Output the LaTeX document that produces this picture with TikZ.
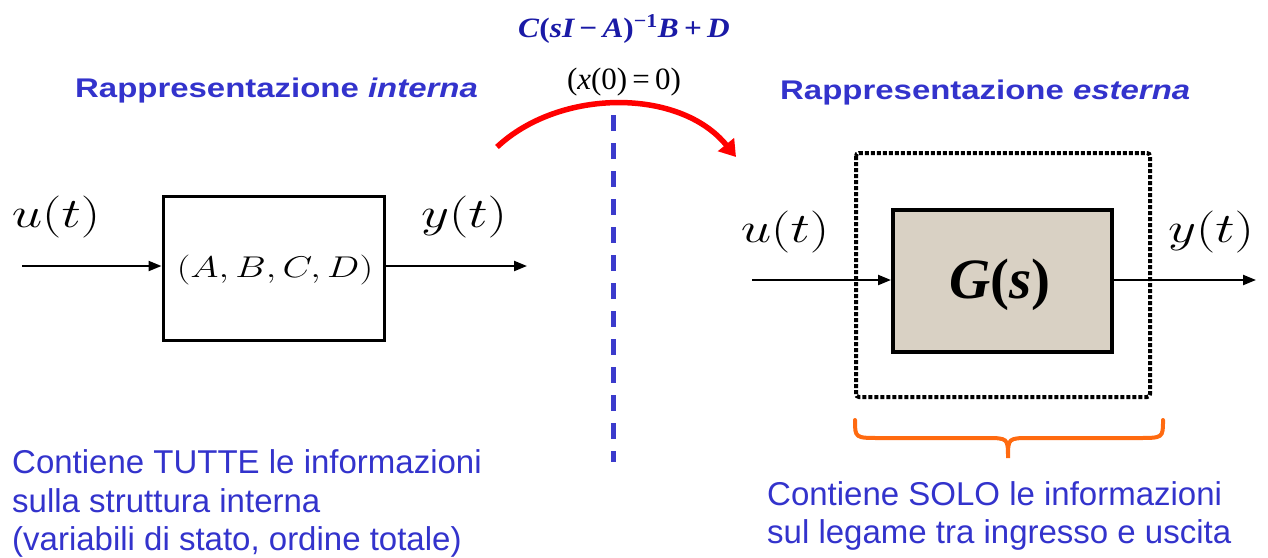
\RequirePackage{fix-cm}
\documentclass[tikz,border=0pt]{standalone}
\usepackage{fontspec}
\newfontfamily\arialf{Liberation Sans}
\newfontfamily\timesf{Liberation Serif}
\usetikzlibrary{arrows.meta}
\definecolor{tblue}{HTML}{3333CC}
\definecolor{fblue}{HTML}{1A1AA6}
\definecolor{dblue}{HTML}{3B3BCC}
\definecolor{bgbox}{HTML}{D9D1C4}
\definecolor{bracecol}{HTML}{FF6A10}
\begin{document}
\begin{tikzpicture}[x=1pt,y=-1pt,
  titlestyle/.style={text=tblue, inner sep=0, anchor=base west},
  bodytext/.style={text=tblue, inner sep=0, anchor=base west, font=\arialf\fontsize{33}{38}\selectfont},
  mathlbl/.style={inner sep=0},
  blockbox/.style={draw, line width=3pt, inner sep=0},
  sig/.style={-{Triangle[length=13pt,width=10pt]}, line width=2.2pt},
]
\useasboundingbox (0,0) rectangle (1268,557);

% titles
\node[titlestyle] (tl) at (75,97) {\scalebox{1.22}[1]{\arialf\bfseries\fontsize{27}{30}\selectfont Rappresentazione \itshape interna}};
\node[titlestyle] (tr) at (780,99) {\scalebox{1.22}[1]{\arialf\bfseries\fontsize{27}{30}\selectfont Rappresentazione \itshape esterna}};

% formula
\node[mathlbl, text=fblue] (form) at (624,29) {\scalebox{1.12}[1]{\timesf\bfseries\fontsize{28}{30}\selectfont\itshape C\textup{(}sI\,\textup{−}\,A\textup{)}\textsuperscript{\textup{−1}}B\,\textup{+}\,D}};
\node[mathlbl] (ic) at (624,82) {\timesf\fontsize{31}{34}\selectfont (\textit{x}(0)\,=\,0)};

% red arc
\coordinate (as) at (497,147);
\coordinate (ae) at (736,157);
\draw[red, line width=5.5pt, -{Triangle[length=16pt,width=20pt]}] (as) .. controls (560,88) and (680,88) .. (ae);

% dashed separator
\coordinate (d1) at (613,115);
\coordinate (d2) at (613,462);
\draw[dblue, line width=5pt, dash pattern=on 16pt off 12pt] (d1) -- (d2);

% left block
\node[blockbox, minimum width=221pt, minimum height=144pt] (lb) at (273.5,268) {};
\node[mathlbl] (abcd) at (275,270) {\scalebox{1.28}[1]{\fontsize{30}{34}\selectfont $(A,B,C,D)$}};
\coordinate (lin) at (22,266);
\coordinate (lout) at (527,266);
\draw[sig] (lin) -- (lin -| lb.west);
\draw[sig] (lout -| lb.east) -- (lout);
\node[mathlbl] (lu) at (56,217) {\scalebox{1.3}[1]{\fontsize{42}{48}\selectfont $u(t)$}};
\node[mathlbl] (ly) at (464,217) {\scalebox{1.3}[1]{\fontsize{42}{48}\selectfont $y(t)$}};

% right block
\draw[line width=4pt, dash pattern=on 4pt off 2pt, rounded corners=3pt] (856,153) rectangle (1150,397);
\node[blockbox, line width=4pt, fill=bgbox, minimum width=219pt, minimum height=142pt] (rb) at (1002.5,281) {};
\node[mathlbl] (gs) at (1000,285) {\timesf\bfseries\fontsize{57}{62}\selectfont\itshape G\textup{(}s\textup{)}};
\coordinate (rin) at (752,280);
\coordinate (rout) at (1256,280);
\draw[sig] (rin) -- (rin -| rb.west);
\draw[sig] (rout -| rb.east) -- (rout);
\node[mathlbl] (ru) at (785,232) {\scalebox{1.3}[1]{\fontsize{42}{48}\selectfont $u(t)$}};
\node[mathlbl] (ry) at (1211,232) {\scalebox{1.3}[1]{\fontsize{42}{48}\selectfont $y(t)$}};

% brace
\draw[bracecol, line width=4pt, line cap=round] (855,420) .. controls (855,438) .. (880,438) -- (985,438) .. controls (1008,438) .. (1008,458) .. controls (1008,438) .. (1031,438) -- (1138,438) .. controls (1163,438) .. (1163,420);

% texts
\node[bodytext] (t1) at (12,473) {Contiene TUTTE le informazioni};
\node[bodytext] (t2) at (12,512) {sulla struttura interna};
\node[bodytext] (t3) at (12,550) {(variabili di stato, ordine totale)};
\node[bodytext] (t4) at (767,505) {Contiene SOLO le informazioni};
\node[bodytext] (t5) at (767,543) {sul legame tra ingresso e uscita};
\end{tikzpicture}
\end{document}
